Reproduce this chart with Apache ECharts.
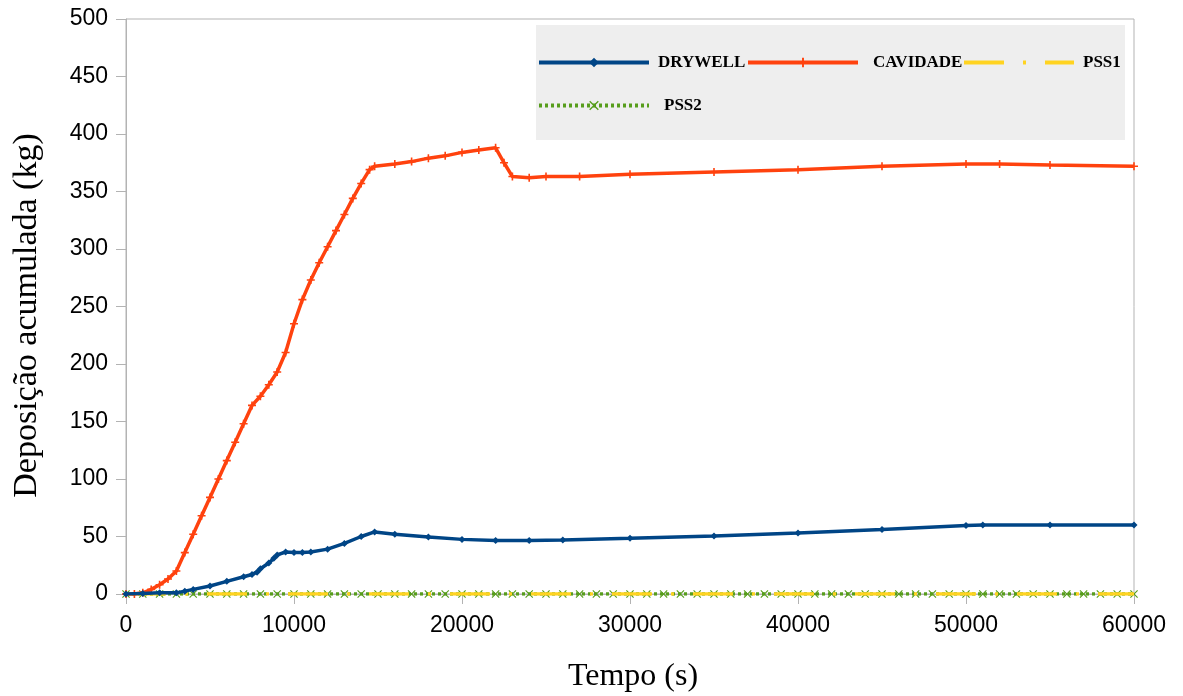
<!DOCTYPE html>
<html>
<head>
<meta charset="utf-8">
<script src="https://cdn.jsdelivr.net/npm/echarts@6/dist/echarts.min.js"></script>
<style>
  html, body { margin: 0; padding: 0; background: #fff; }
  #chart { width: 1183px; height: 696px; }
</style>
</head>
<body>
<div id="chart"></div>
<script>
(function () {
  'use strict';

  // tempo (s) e deposição (kg)
  var tempoDrywell = [0, 1000, 2000, 3000, 3500, 4000, 5000, 6000, 7000, 7500, 7800, 8000, 8500, 8800, 9000, 9500,
    10000, 10500, 11000, 12000, 13000, 14000, 14800, 16000, 18000, 20000, 22000, 24000, 26000, 30000,
    35000, 40000, 45000, 50000, 51000, 55000, 60000];
  var drywell = [0, 0.5, 1, 1, 2.5, 4, 7, 11, 15, 17, 19, 22, 27, 31, 34, 36.5,
    36, 36, 36.5, 39, 44, 50, 54, 52, 49.5, 47.5, 46.5, 46.5, 47, 48.5,
    50.5, 53, 56, 59.5, 60, 60, 60];

  var tempoCavidade = [0, 500, 1000, 1500, 2000, 2500, 3000, 3500, 4000, 4500, 5000, 5500, 6000, 6500, 7000, 7500,
    8000, 8500, 9000, 9500, 10000, 10500, 11000, 11500, 12000, 12500, 13000, 13500, 14000, 14500, 14800,
    16000, 17000, 18000, 19000, 20000, 21000, 22000, 22500, 23000, 24000, 25000, 27000, 30000,
    35000, 40000, 45000, 50000, 52000, 55000, 60000];
  var cavidade = [0, 0, 1, 4, 8, 13, 20, 36, 52, 68, 84, 100, 116, 132, 148, 164,
    172, 182, 193, 210, 235, 256, 273, 288, 302, 316, 330, 344, 357, 369, 372,
    374, 376, 379, 381, 384, 386, 388, 375, 363, 362, 363, 363, 365,
    367, 369, 372, 374, 374, 373, 372];

  var tempoPss = [0, 1000, 2000, 3000, 4000, 5000, 6000, 7000, 8000, 9000, 10000, 11000, 12000, 13000, 14000,
    15000, 16000, 17000, 18000, 19000, 20000, 21000, 22000, 23000, 24000, 25000, 26000, 27000, 28000, 29000,
    30000, 31000, 32000, 33000, 34000, 35000, 36000, 37000, 38000, 39000, 40000, 41000, 42000, 43000, 44000,
    45000, 46000, 47000, 48000, 49000, 50000, 51000, 52000, 53000, 54000, 55000, 56000, 57000, 58000, 59000, 60000];
  var pss1 = [0, 0, 0, 0, 0, 0, 0, 0, 0, 0, 0, 0, 0, 0, 0, 0, 0, 0, 0, 0, 0, 0, 0, 0, 0, 0, 0, 0, 0, 0,
    0, 0, 0, 0, 0, 0, 0, 0, 0, 0, 0, 0, 0, 0, 0, 0, 0, 0, 0, 0, 0, 0, 0, 0, 0, 0, 0, 0, 0, 0, 0];
  var pss2 = [0, 0, 0, 0, 0, 0, 0, 0, 0, 0, 0, 0, 0, 0, 0, 0, 0, 0, 0, 0, 0, 0, 0, 0, 0, 0, 0, 0, 0, 0,
    0, 0, 0, 0, 0, 0, 0, 0, 0, 0, 0, 0, 0, 0, 0, 0, 0, 0, 0, 0, 0, 0, 0, 0, 0, 0, 0, 0, 0, 0, 0];

  var yTicks = [0, 50, 100, 150, 200, 250, 300, 350, 400, 450, 500];
  var xTicks = [0, 10000, 20000, 30000, 40000, 50000, 60000];

  function pares(xs, ys) {
    return xs.map(function (x, i) { return [x, ys[i]]; });
  }

  var plusPath = 'path://M4,0H6V4H10V6H6V10H4V6H0V4H4Z';
  var crossPath = 'path://M1,0L5,4L9,0L10,1L6,5L10,9L9,10L5,6L1,10L0,9L4,5L0,1Z';

  function legendaItem(nome, left, top, gapTexto, esconderSimbolo) {
    var leg = {
      data: [nome],
      left: left,
      top: top,
      itemWidth: 110,
      itemHeight: 12,
      padding: 0,
      selectedMode: false,
      lineStyle: { width: 4 },
      textStyle: {
        fontFamily: 'Liberation Serif',
        fontWeight: 'bold',
        fontSize: 17,
        color: '#000',
        padding: [0, 0, 0, gapTexto]
      }
    };
    if (esconderSimbolo) {
      leg.itemStyle = { opacity: 0 };
    }
    return leg;
  }

  var chart = echarts.init(document.getElementById('chart'));

  var option = {
    animation: false,
    backgroundColor: '#fff',
    graphic: [{
      type: 'rect',
      left: 536,
      top: 25,
      shape: { width: 589, height: 115 },
      style: { fill: '#eeeeee' },
      z: 0
    }],
    legend: [
      legendaItem('DRYWELL', 537, 54, 4),
      legendaItem('CAVIDADE', 746, 54, 10),
      legendaItem('PSS1', 962, 54, 4, true),
      legendaItem('PSS2', 537, 97, 10)
    ],
    grid: {
      left: 126,
      right: 49,
      top: 19,
      bottom: 102,
      outerBoundsMode: 'none',
      show: true,
      borderColor: '#b3b3b3',
      borderWidth: 1
    },
    xAxis: {
      type: 'value',
      min: xTicks[0],
      max: xTicks[xTicks.length - 1],
      interval: 10000,
      name: 'Tempo (s)',
      nameLocation: 'middle',
      nameGap: 67,
      nameTextStyle: { fontFamily: 'Liberation Serif', fontSize: 32, color: '#000', padding: [0, 0, 0, 6] },
      axisLine: { show: true, lineStyle: { color: '#b3b3b3' } },
      axisTick: { show: true, length: 10, lineStyle: { color: '#b3b3b3' } },
      axisLabel: {
        fontFamily: 'Liberation Sans', fontSize: 23, color: '#000', margin: 20,
        formatter: function (v) { return String(v); }
      },
      splitLine: { show: false }
    },
    yAxis: {
      type: 'value',
      min: yTicks[0],
      max: yTicks[yTicks.length - 1],
      interval: 50,
      name: 'Deposição acumulada (kg)',
      nameLocation: 'middle',
      nameGap: 82,
      nameTextStyle: { fontFamily: 'Liberation Serif', fontSize: 34, color: '#000', padding: [0, 18, 0, 0] },
      axisLine: { show: true, lineStyle: { color: '#b3b3b3' } },
      axisTick: { show: true, length: 10, lineStyle: { color: '#b3b3b3' } },
      axisLabel: { fontFamily: 'Liberation Sans', fontSize: 23, color: '#000', margin: 18 },
      splitLine: { show: false }
    },
    series: [
      {
        name: 'DRYWELL',
        type: 'line',
        data: pares(tempoDrywell, drywell),
        color: '#004586',
        lineStyle: { width: 3.5, color: '#004586' },
        symbol: 'diamond',
        symbolSize: 7,
        showAllSymbol: true,
        z: 5
      },
      {
        name: 'CAVIDADE',
        type: 'line',
        data: pares(tempoCavidade, cavidade),
        color: '#ff420e',
        lineStyle: { width: 3.5, color: '#ff420e' },
        symbol: plusPath,
        symbolSize: 8,
        showAllSymbol: true,
        z: 4
      },
      {
        name: 'PSS1',
        type: 'line',
        data: pares(tempoPss, pss1),
        color: '#ffd320',
        lineStyle: { width: 3.5, color: '#ffd320', type: [40, 19, 3, 19] },
        symbol: 'circle',
        showSymbol: false,
        z: 3
      },
      {
        name: 'PSS2',
        type: 'line',
        data: pares(tempoPss, pss2),
        color: '#579d1c',
        lineStyle: { width: 3.5, color: '#579d1c', type: [3, 3] },
        symbol: crossPath,
        symbolSize: 8,
        showAllSymbol: true,
        z: 2
      }
    ]
  };

  chart.setOption(option);
})();
</script>
</body>
</html>
